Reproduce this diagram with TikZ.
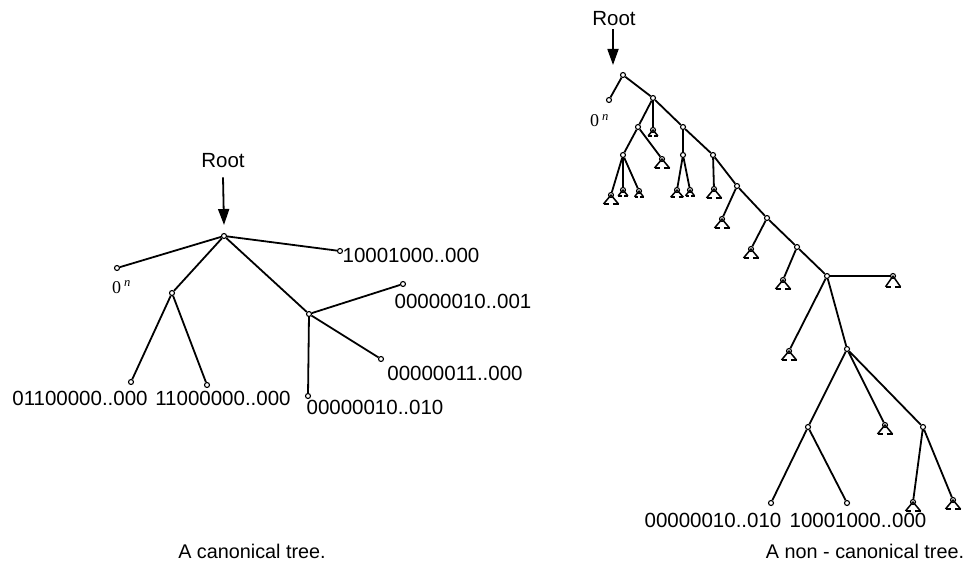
\documentclass[tikz,border=0pt]{standalone}
\usepackage{fontspec}
\setmainfont{Liberation Sans}
\newfontfamily\serifnum{Liberation Serif}
\usetikzlibrary{arrows.meta}
\begin{document}
\begin{tikzpicture}[x=1pt,y=-1pt,
  edge/.style={line width=1.8pt},
  dot/.style={circle,draw,fill=white,inner sep=0pt,minimum size=5pt,line width=1.1pt},
  lbl/.style={font=\fontsize{20.5}{24}\selectfont, inner sep=0pt},
  captxt/.style={font=\fontsize{19.8}{23}\selectfont, inner sep=0pt},
  zero/.style={font=\fontsize{18}{20}\selectfont\serifnum, inner sep=0pt},
  rootarrow/.style={line width=1.8pt,-{Triangle[length=16pt,width=11pt]}},
  pics/subtree/.style={code={
     \draw[line width=1.5pt,line join=round] (-7.5,9) -- (0,0) -- (7.5,9);
     \draw[line width=1.5pt] (-7.5,9) -- (-1.8,9) (1.8,9) -- (7.5,9);
  }}
]
\useasboundingbox (0,0) rectangle (969,567);

% ---------------- left: canonical tree ----------------
\node[lbl] (rootL) at (223,161) {Root};
\coordinate (RtipL) at (224,225);
\draw[rootarrow] (rootL.south) ++(0,9) -- (RtipL);

\node[dot] (R)  at (224,236) {};
\node[dot] (L0) at (117,268) {};
\node[dot] (Lr) at (340,251) {};
\node[dot] (A)  at (172,293) {};
\node[dot] (B)  at (309,314) {};
\node[dot] (A1) at (131,382) {};
\node[dot] (A2) at (207,385) {};
\node[dot] (B1) at (403,284) {};
\node[dot] (B2) at (381,359) {};
\node[dot] (B3) at (308,396) {};

\draw[edge] (R) -- (L0) (R) -- (Lr) (R) -- (A) (R) -- (B)
            (A) -- (A1) (A) -- (A2)
            (B) -- (B1) (B) -- (B2) (B) -- (B3);

\node[zero,anchor=base west] (z0L) at (112,293) {0\,\textsuperscript{\itshape n}};
\node[lbl] (tLr) at (411,255) {10001000..000};
\node[lbl] (tA1) at (80,398) {01100000..000};
\node[lbl] (tA2) at (223,398) {11000000..000};
\node[lbl] (tB1) at (463,301) {00000010..001};
\node[lbl] (tB2) at (455,373) {00000011..000};
\node[lbl] (tB3) at (375,407) {00000010..010};

\node[captxt] (capL) at (252,551) {A canonical tree.};

% ---------------- right: non-canonical tree ----------------
\node[lbl] (rootR) at (614,19) {Root};
\coordinate (RtipR) at (613,65);
\draw[rootarrow] (rootR.south) ++(-1,3) -- (RtipR);

\node[dot] (r0)  at (623,75) {};
\node[dot] (r0n) at (609,100) {};
\node[dot] (r1)  at (653,98) {};
\node[dot] (n2)  at (638,127) {};
\node[dot] (t1)  at (653,130) {};
\node[dot] (n3)  at (623,155) {};
\node[dot] (t2)  at (662,159) {};
\node[dot] (t3)  at (611,195) {};
\node[dot] (t4)  at (623,190) {};
\node[dot] (t5)  at (639,191) {};
\node[dot] (s1)  at (683,127) {};
\node[dot] (n4)  at (683,155) {};
\node[dot] (t6)  at (677,190) {};
\node[dot] (t7)  at (690,190) {};
\node[dot] (s2)  at (713,155) {};
\node[dot] (t8)  at (714,189) {};
\node[dot] (s3)  at (737,186) {};
\node[dot] (t9)  at (722,219) {};
\node[dot] (s4)  at (767,218) {};
\node[dot] (t10) at (751,249) {};
\node[dot] (s5)  at (797,247) {};
\node[dot] (t11) at (783,280) {};
\node[dot] (s6)  at (827,276) {};
\node[dot] (t12) at (893,276) {};
\node[dot] (t13) at (789,351) {};
\node[dot] (n5)  at (847,349) {};
\node[dot] (n6)  at (808,427) {};
\node[dot] (t14) at (885,425) {};
\node[dot] (n7)  at (923,427) {};
\node[dot] (lf1) at (771,503) {};
\node[dot] (lf2) at (847,503) {};
\node[dot] (t15) at (913,502) {};
\node[dot] (t16) at (953,500) {};

\draw[edge] (r0) -- (r0n) (r0) -- (r1)
            (r1) -- (n2) (r1) -- (t1) (r1) -- (s1)
            (n2) -- (n3) (n2) -- (t2)
            (n3) -- (t3) (n3) -- (t4) (n3) -- (t5)
            (s1) -- (n4) (s1) -- (s2)
            (n4) -- (t6) (n4) -- (t7)
            (s2) -- (t8) (s2) -- (s3)
            (s3) -- (t9) (s3) -- (s4)
            (s4) -- (t10) (s4) -- (s5)
            (s5) -- (t11) (s5) -- (s6)
            (s6) -- (t12) (s6) -- (t13) (s6) -- (n5)
            (n5) -- (n6) (n5) -- (t14) (n5) -- (n7)
            (n6) -- (lf1) (n6) -- (lf2)
            (n7) -- (t15) (n7) -- (t16);

% subtree triangles
\pic[xscale=0.65,yscale=0.65] at (t1) {subtree};
\pic at (t2) {subtree};
\pic at (t3) {subtree};
\pic[xscale=0.65,yscale=0.65] at (t4) {subtree};
\pic[xscale=0.6,yscale=0.65] at (t5) {subtree};
\pic[xscale=0.85,yscale=0.8] at (t6) {subtree};
\pic[xscale=0.6,yscale=0.65] at (t7) {subtree};
\pic at (t8) {subtree};
\pic at (t9) {subtree};
\pic at (t10) {subtree};
\pic at (t11) {subtree};
\pic[yscale=1.2] at (t12) {subtree};
\pic at (t13) {subtree};
\pic at (t14) {subtree};
\pic at (t15) {subtree};
\pic at (t16) {subtree};

\node[zero,anchor=base west] (z0R) at (590,127) {0\,\textsuperscript{\itshape n}};
\node[lbl] (tlf1) at (713,520) {00000010..010};
\node[lbl] (tlf2) at (858,520) {10001000..000};

\node[captxt] (capR) at (865,551) {A non - canonical tree.};
\end{tikzpicture}
\end{document}
